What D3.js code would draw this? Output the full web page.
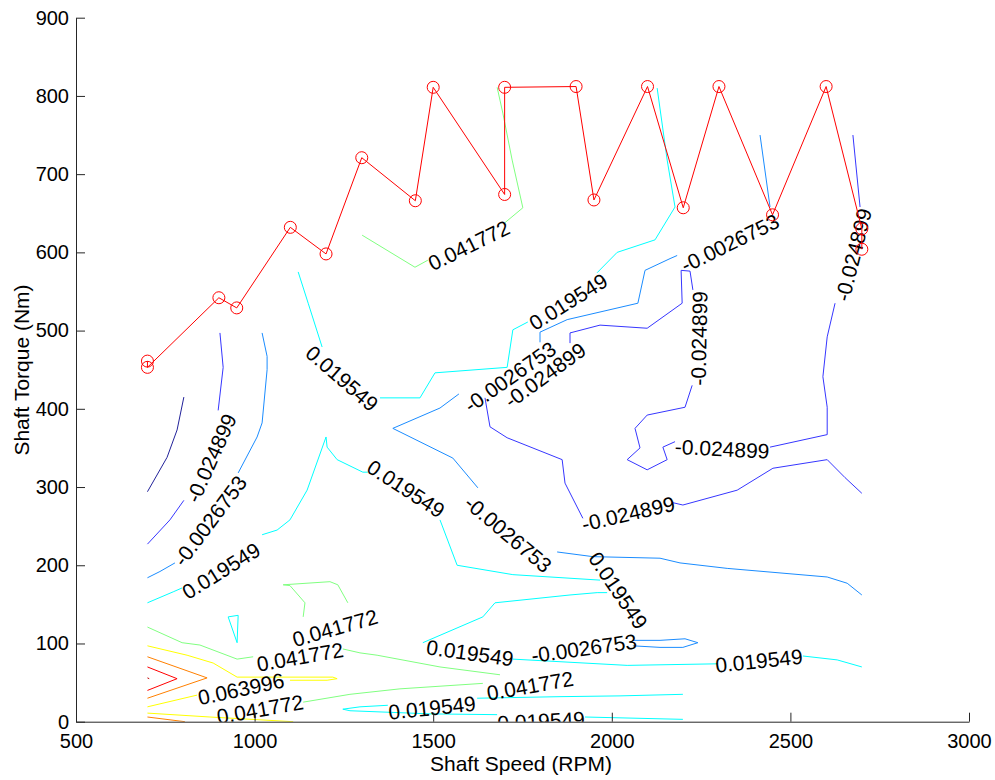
<!DOCTYPE html>
<html><head><meta charset="utf-8">
<script src="https://cdn.jsdelivr.net/npm/d3@7"></script>
<style>body{margin:0;background:#fff} text{font-family:"Liberation Sans",Arial,Helvetica,sans-serif}</style>
</head><body><svg id="chart" width="995" height="780"></svg>
<script>
// ---------------- data ----------------
const xTicks = [500, 1000, 1500, 2000, 2500, 3000];
const yTicks = [0, 100, 200, 300, 400, 500, 600, 700, 800, 900];
const levels = [-0.047122, -0.024899, -0.0026753, 0.019549, 0.041772, 0.063996, 0.086219, 0.10844, 0.13067];

// operating points (red line with circles)
const opSpeed  = [700, 700, 900, 950, 1100, 1200, 1300, 1450, 1500, 1700, 1700, 1900, 1950, 2100, 2200, 2300, 2450, 2600, 2700, 2700];
const opTorque = [461, 453, 542, 529, 632, 598, 721, 666, 811, 674, 811, 812, 667, 812, 657, 812, 648, 812, 630, 604];

// contour polylines [speed, torque]; null = gap left for an inline label
const lineNavyA = [[802,415],[783,373],[755,338],[700,294]];
const lineBlueA = [[903,497],[912,453],[898,398],null,[802,283],[763,258],[700,227]];
const lineBlueB = [[2700,292],[2653,312],[2603,335],[2451,324],[2351,296],[2199,277],[2171,280],null,
  [1919,260],[1869,305],[1861,335],[1707,363],[1659,377],[1645,414],null,
  [1883,484],[1883,497],[1967,507],[2099,503],[2197,535],[2194,577],[2219,576],[2227,552],null,
  [2225,430],[2205,402],[2099,392],[2065,375],[2079,350],[2043,335],[2099,322],[2155,335],[2143,351],[2177,358],null,
  [2443,351],[2603,367],[2603,402],[2591,441],[2603,492],[2625,535],null,[2695,658],[2675,750]];
const lineLtBlueA = [[1021,497],[1035,467],[1035,450],[1021,382],[1007,364],[954,318],null,[777,203],[735,192],[700,184]];
const lineLtBlueB = [[2415,750],[2443,658],null,[2183,596],[2163,592],[2093,577],[2073,535],[1875,514],[1799,498],[1799,485],null,
  [1572,419],[1519,401],[1387,375],[1555,337],[1625,299],null,
  [1847,217],[1947,211],[2135,209],[2191,203],[2323,196],[2603,185],[2659,177],[2700,162]];
const lineLtBlueC = [[2059,104],[2135,104],[2205,106],[2241,101],[2199,95],[2135,95],[2059,97]];
const lineCyanA = [[2127,810],[2155,718],[2177,658],[2121,616],[2015,600],[1959,574],null,
  [1765,511],[1723,501],[1707,453],[1505,446],[1463,414],[1351,414],null,[1189,479],[1150,535],[1122,575]];
const lineCyanB = [[700,152],[772,166],[797,171],null,[1021,239],[1063,245],[1099,258],[1147,296],[1200,364],[1203,351],[1231,335],[1303,319],[1317,319],null,
  [1519,258],[1567,200],[1723,188],[1967,181],null,
  [1987,165],[1959,165],[1883,162],[1673,152],[1639,134],[1471,101],null,
  [1723,80],[1883,76],[2043,72],[2295,74],null,[2535,84],[2631,79],[2700,70]];
const lineCyanC = [[926,134],[954,136],[951,101],[926,134]];
const lineCyanD = [[2199,35],[2023,33],[1855,32],[1623,30],null,[1373,21],[1295,19],[1247,16],[1267,14],[1491,10],[1679,9],null,[1925,6],[2199,3]];
const lineGreenA = [[1301,622],[1449,581],[1485,590],null,[1701,638],[1751,657],[1721,718],[1695,778],[1679,811]];
const lineGreenB = [[1136,134],[1141,152],[1099,174],[1080,175],[1211,179],[1233,175],[1261,152]];
const lineGreenC = [[700,121],[797,101],[847,98],[951,80],[996,83],null,[1247,93],[1295,88],[1343,85],[1519,70],[1687,60],null,
  [1639,49],[1407,42],[1267,35],[1136,25]];
const lineYellowA = [[700,97],[811,85],[884,75],[951,57],[1219,57],[1231,55],[1203,53],[1099,53],null,[839,34],[700,19]];
const lineYellowB = [[700,11],[875,6],[1108,0]];
const lineOrangeA = [[700,83],[867,56],[700,30]];
const lineOrangeB = [[700,6],[805,0]];
const lineRedA = [[700,70],[783,55],[700,40]];
const lineDarkRedA = [[700,56],[705,55]];

const contourLines = [
  {level:0, pts:lineNavyA},
  {level:1, pts:lineBlueA}, {level:1, pts:lineBlueB},
  {level:2, pts:lineLtBlueA}, {level:2, pts:lineLtBlueB}, {level:2, pts:lineLtBlueC},
  {level:3, pts:lineCyanA}, {level:3, pts:lineCyanB}, {level:3, pts:lineCyanC}, {level:3, pts:lineCyanD},
  {level:4, pts:lineGreenA}, {level:4, pts:lineGreenB}, {level:4, pts:lineGreenC},
  {level:5, pts:lineYellowA}, {level:5, pts:lineYellowB},
  {level:6, pts:lineOrangeA}, {level:6, pts:lineOrangeB},
  {level:7, pts:lineRedA}, {level:8, pts:lineDarkRedA}
];

// inline contour labels: level index, speed, torque, angle
const labelLevel = [4, 3, 2, 1, 1, 3, 1, 2, 3, 3, 2, 2, 1, 1, 1, 3, 2, 3, 3, 4, 4, 5, 4, 4, 3, 3];
const labelSpeed = [1600,1878,2331,2676,2244,1245,878,875,906,1424,1710,1715,1813,2046,2309,2018,1922,1603,2412,1225,1127,962,1015,1771,1497,1802];
const labelTorque= [609, 537, 612, 597, 490, 439, 337, 257, 193, 298, 240, 441, 443, 266, 349, 168, 94, 88, 78, 120, 83, 42, 16, 46, 18, 1];
const labelAngle = [-26,-32,-26,-76,-89, 41,-66,-53,-32, 33, 40,-35,-36,-13, 3, 56, -8, 8, -6,-16,-10,-12,-10,-10,-6,-3];

// ---------------- drawing ----------------
const colors = ["#22229a","#3636ff","#1a8cff","#00ffff","#80ff80","#ffff00","#ff8000","#ff0000","#bf0000"];
const svg = d3.select("#chart");
const x = d3.scaleLinear().domain([500, 3000]).range([76, 969]);
const y = d3.scaleLinear().domain([0, 900]).range([721.7, 17.7]);

svg.append("defs").append("clipPath").attr("id","plotClip")
  .append("rect").attr("x", x(500)).attr("y", y(900))
  .attr("width", x(3000)-x(500)).attr("height", y(0)-y(900));

const plot = svg.append("g").attr("clip-path","url(#plotClip)");
const line = d3.line().defined(d => d !== null).x(d => x(d[0])).y(d => y(d[1]));

plot.selectAll("path.contour").data(contourLines).join("path")
  .attr("class","contour")
  .attr("d", d => line(d.pts))
  .attr("fill","none")
  .attr("stroke", d => colors[d.level])
  .attr("stroke-width", 1);

const labels = labelLevel.map((l,i) => ({text:String(levels[l]), sx:labelSpeed[i], ty:labelTorque[i], a:labelAngle[i]}));
plot.selectAll("text.clabel").data(labels).join("text")
  .attr("class","clabel")
  .attr("transform", d => `translate(${x(d.sx)},${y(d.ty)}) rotate(${d.a})`)
  .attr("text-anchor","middle")
  .attr("dy","0.36em")
  .attr("font-size","21px")
  .attr("fill","#000")
  .text(d => d.text);

// operating points
const ops = opSpeed.map((s,i) => [s, opTorque[i]]);
svg.append("path").attr("d", d3.line().x(d=>x(d[0])).y(d=>y(d[1]))(ops))
  .attr("fill","none").attr("stroke","#ff0000").attr("stroke-width",1);
svg.selectAll("circle.op").data(ops).join("circle").attr("class","op")
  .attr("cx", d=>x(d[0])).attr("cy", d=>y(d[1])).attr("r", 6)
  .attr("fill","none").attr("stroke","#ff0000").attr("stroke-width",1);

// axes
const axisColor = "#262626";
const gx = svg.append("g").attr("transform", `translate(0,${y(0)})`)
  .call(d3.axisBottom(x).tickValues(xTicks).tickFormat(d3.format("d")).tickSizeInner(-9).tickSizeOuter(0).tickPadding(12));
const gy = svg.append("g").attr("transform", `translate(${x(500)},0)`)
  .call(d3.axisLeft(y).tickValues(yTicks).tickFormat(d3.format("d")).tickSizeInner(-9).tickSizeOuter(0).tickPadding(7));
[gx, gy].forEach(g => {
  g.select(".domain").attr("stroke", axisColor);
  g.selectAll(".tick line").attr("stroke", axisColor);
  g.selectAll(".tick text").attr("fill","#000").attr("font-size","20px")
   .attr("font-family","'Liberation Sans',Arial,sans-serif");
});

svg.append("text").attr("x", 521).attr("y", 771).attr("text-anchor","middle")
  .attr("font-size","21px").attr("fill","#000").text("Shaft Speed (RPM)");
svg.append("text").attr("transform","translate(29,370) rotate(-90)").attr("text-anchor","middle")
  .attr("font-size","21px").attr("fill","#000").text("Shaft Torque (Nm)");
</script></body></html>
